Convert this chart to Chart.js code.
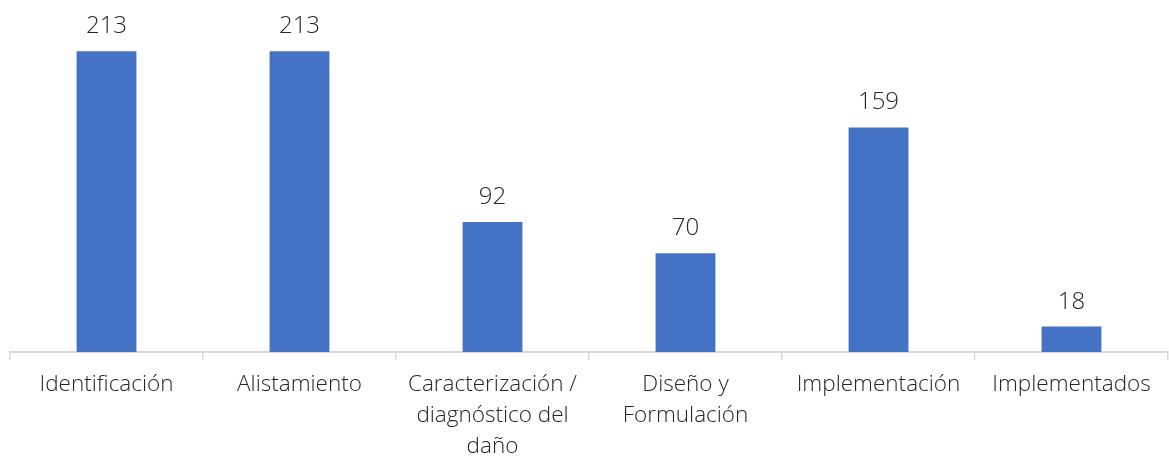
<!DOCTYPE html>
<html>
<head>
<meta charset="utf-8">
<script src="https://cdn.jsdelivr.net/npm/chart.js@4"></script>
<style>
  html, body { margin: 0; padding: 0; background: #fff; }
  #wrap { width: 1169px; height: 456px; }
</style>
</head>
<body>
<div id="wrap"><canvas id="myChart"></canvas></div>
<script>
const categories = [
  'Identificación',
  'Alistamiento',
  ['Caracterización /', 'diagnóstico del', 'daño'],
  ['Diseño y', 'Formulación'],
  'Implementación',
  'Implementados'
]
const values = [213, 213, 92, 70, 159, 18]

const FONT = '"Open Sans", Lato, sans-serif'

// etiquetas encima de cada barra
const barLabels = {
  id: 'barLabels',
  afterDatasetsDraw (chart) {
    const { ctx } = chart
    const meta = chart.getDatasetMeta(0)
    ctx.save()
    ctx.font = '300 24px ' + FONT
    ctx.fillStyle = '#262626'
    ctx.textAlign = 'center'
    ctx.textBaseline = 'alphabetic'
    meta.data.forEach((bar, i) => {
      ctx.fillText(values[i], bar.x, bar.y - 18)
    })
    ctx.restore()
  }
}

const ctx = document.getElementById('myChart')

new Chart(ctx, {
  type: 'bar',
  data: {
    labels: categories,
    datasets: [{
      data: values,
      backgroundColor: '#4472C4',
      barPercentage: 0.31,
      categoryPercentage: 1
    }]
  },
  options: {
    responsive: true,
    maintainAspectRatio: false,
    animation: false,
    layout: { padding: { left: 10, right: 1, top: 13, bottom: 0 } },
    plugins: {
      legend: { display: false },
      tooltip: { enabled: false }
    },
    scales: {
      x: {
        offset: true,
        afterFit: (scale) => { scale.height = 104 },
        grid: {
          offset: true,
          drawOnChartArea: false,
          color: '#d9d9d9',
          lineWidth: 1.5,
          tickLength: 8
        },
        border: { color: '#d9d9d9', width: 2 },
        ticks: {
          color: '#262626',
          font: { family: FONT, size: 22.5, weight: '300', lineHeight: 1.38 },
          maxRotation: 0,
          padding: 9
        }
      },
      y: {
        display: false,
        min: 0,
        max: 240
      }
    }
  },
  plugins: [barLabels]
})
</script>
</body>
</html>
